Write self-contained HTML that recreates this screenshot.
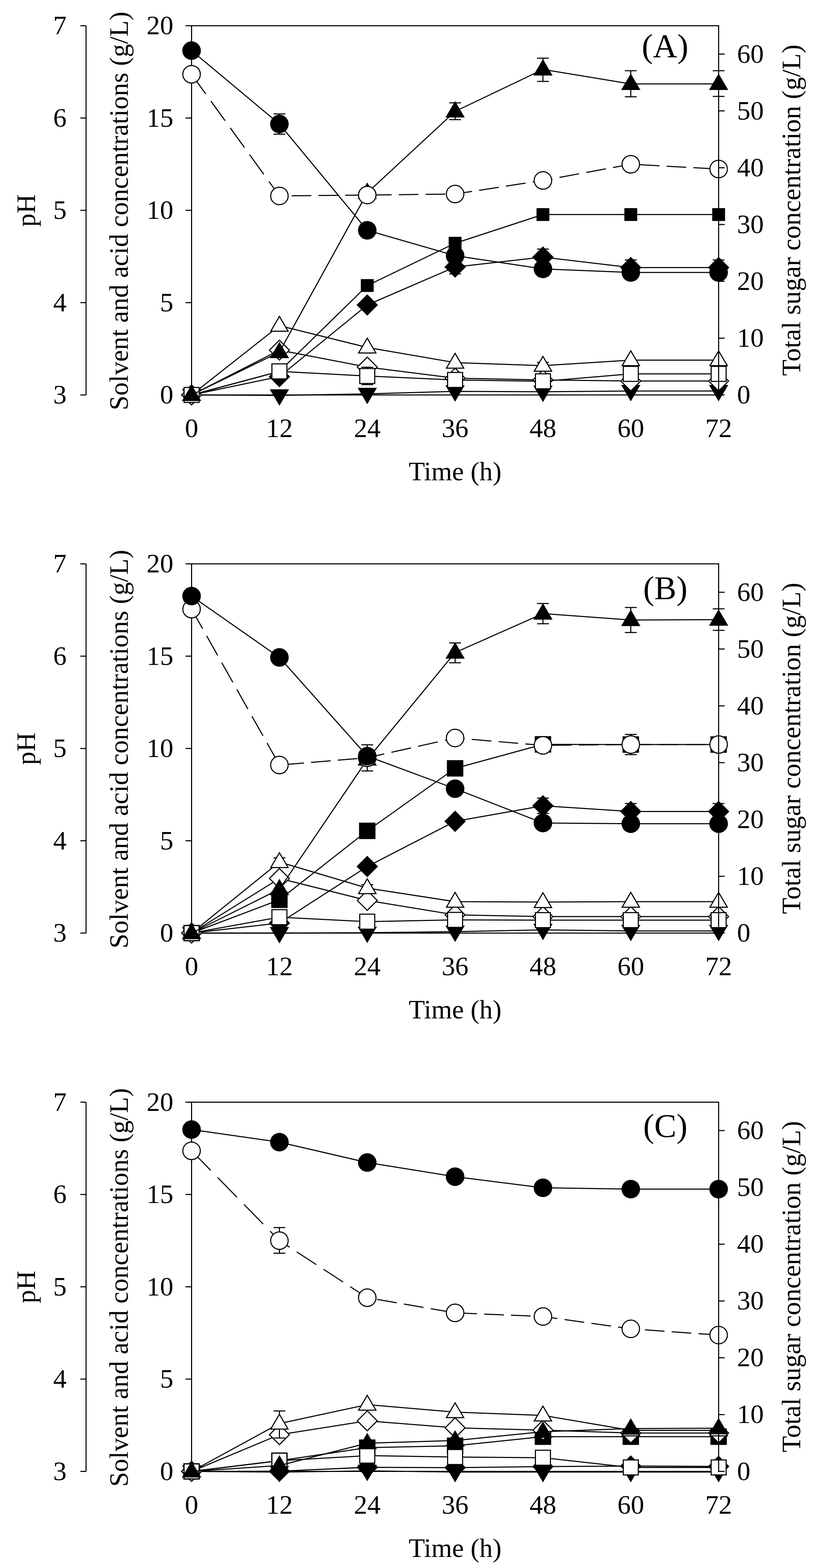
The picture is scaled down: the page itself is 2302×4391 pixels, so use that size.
<!DOCTYPE html>
<html><head><meta charset="utf-8"><title>Fermentation profiles</title>
<style>html,body{margin:0;padding:0;background:#fff;width:2302px;height:4391px;overflow:hidden} text{fill:#000;font-family:'Liberation Serif','Times New Roman',serif}</style>
</head><body>
<svg width="2302" height="4391" viewBox="0 0 2302 4391" style="display:block;font-family:'Liberation Serif','Times New Roman',serif">
<rect width="2302" height="4391" fill="#fff"/>
<g transform="translate(0,0)">
<path d="M241.0 72.0V1106.0" stroke="#000" stroke-width="3.0" fill="none"/>
<path d="M225.0 72H241.0" stroke="#000" stroke-width="3.0"/>
<text x="186.5" y="96" text-anchor="end" font-size="75" >7</text>
<path d="M225.0 330.5H241.0" stroke="#000" stroke-width="3.0"/>
<text x="186.5" y="354.5" text-anchor="end" font-size="75" >6</text>
<path d="M225.0 589H241.0" stroke="#000" stroke-width="3.0"/>
<text x="186.5" y="613" text-anchor="end" font-size="75" >5</text>
<path d="M225.0 847.5H241.0" stroke="#000" stroke-width="3.0"/>
<text x="186.5" y="871.5" text-anchor="end" font-size="75" >4</text>
<path d="M225.0 1106H241.0" stroke="#000" stroke-width="3.0"/>
<text x="186.5" y="1130" text-anchor="end" font-size="75" >3</text>
<text transform="translate(97.8,589.5) rotate(-90)" text-anchor="middle" font-size="74.5">pH</text>
<text transform="translate(357.5,1149) rotate(-90)" text-anchor="start" font-size="74.2">Solvent and acid concentrations (g/L)</text>
<path d="M519.5 72H536.5" stroke="#000" stroke-width="3.0"/>
<text x="485.5" y="96" text-anchor="end" font-size="75" >20</text>
<path d="M519.5 330.5H536.5" stroke="#000" stroke-width="3.0"/>
<text x="485.5" y="354.5" text-anchor="end" font-size="75" >15</text>
<path d="M519.5 589H536.5" stroke="#000" stroke-width="3.0"/>
<text x="485.5" y="613" text-anchor="end" font-size="75" >10</text>
<path d="M519.5 847.5H536.5" stroke="#000" stroke-width="3.0"/>
<text x="485.5" y="871.5" text-anchor="end" font-size="75" >5</text>
<path d="M519.5 1106H536.5" stroke="#000" stroke-width="3.0"/>
<text x="485.5" y="1130" text-anchor="end" font-size="75" >0</text>
<text x="2064" y="1130" text-anchor="start" font-size="75" >0</text>
<text x="2064" y="970.9" text-anchor="start" font-size="75" >10</text>
<text x="2064" y="811.8" text-anchor="start" font-size="75" >20</text>
<text x="2064" y="652.8" text-anchor="start" font-size="75" >30</text>
<text x="2064" y="493.7" text-anchor="start" font-size="75" >40</text>
<text x="2064" y="334.6" text-anchor="start" font-size="75" >50</text>
<text x="2064" y="175.5" text-anchor="start" font-size="75" >60</text>
<text transform="translate(2241,588.6) rotate(-90)" text-anchor="middle" font-size="74.5">Total sugar concentration (g/L)</text>
<text x="536.5" y="1224" text-anchor="middle" font-size="75" >0</text>
<text x="782.5" y="1224" text-anchor="middle" font-size="75" >12</text>
<text x="1028.5" y="1224" text-anchor="middle" font-size="75" >24</text>
<text x="1274.5" y="1224" text-anchor="middle" font-size="75" >36</text>
<text x="1520.5" y="1224" text-anchor="middle" font-size="75" >48</text>
<text x="1766.5" y="1224" text-anchor="middle" font-size="75" >60</text>
<text x="2012.5" y="1224" text-anchor="middle" font-size="75" >72</text>
<text x="1274.5" y="1345" text-anchor="middle" font-size="74.5" >Time (h)</text>
<text x="1797.3" y="160.1" text-anchor="start" font-size="94" >(A)</text>
<path d="M2012.5 72.0H536.5V1106.0H2012.5" stroke="#000" stroke-width="3.0" fill="none" stroke-linejoin="miter"/>
<path d="M536.5 1106 L782.5 1040 L1028.5 799.6 L1274.5 681.2 L1520.5 600.8 L1766.5 600.8 L2012.5 600.8" fill="none" stroke="#000" stroke-width="3.0" stroke-linejoin="round"/>
<rect x="518.5" y="1088" width="36" height="36" fill="#000"/>
<rect x="764.5" y="1022" width="36" height="36" fill="#000"/>
<rect x="1010.5" y="781.6" width="36" height="36" fill="#000"/>
<rect x="1256.5" y="663.2" width="36" height="36" fill="#000"/>
<rect x="1502.5" y="582.8" width="36" height="36" fill="#000"/>
<rect x="1748.5" y="582.8" width="36" height="36" fill="#000"/>
<rect x="1994.5" y="582.8" width="36" height="36" fill="#000"/>
<path d="M536.5 1106 L782.5 1054.7 L1028.5 854 L1274.5 747.7 L1520.5 720 L1766.5 749.3 L2012.5 749.3" fill="none" stroke="#000" stroke-width="3.0" stroke-linejoin="round"/>
<path d="M1766.5 728V770.5M1750 728H1783M1750 770.5H1783" stroke="#000" stroke-width="3.0" fill="none"/>
<path d="M2012.5 728V770.5M1996 728H2029M1996 770.5H2029" stroke="#000" stroke-width="3.0" fill="none"/>
<path d="M1274.5 728.4V767M1258 728.4H1291M1258 767H1291" stroke="#000" stroke-width="3.0" fill="none"/>
<path d="M1520.5 697.5V742.5M1504 697.5H1537M1504 742.5H1537" stroke="#000" stroke-width="3.0" fill="none"/>
<polygon points="536.5,1076 566.5,1106 536.5,1136 506.5,1106" fill="#000"/>
<polygon points="782.5,1024.7 812.5,1054.7 782.5,1084.7 752.5,1054.7" fill="#000"/>
<polygon points="1028.5,824 1058.5,854 1028.5,884 998.5,854" fill="#000"/>
<polygon points="1274.5,717.7 1304.5,747.7 1274.5,777.7 1244.5,747.7" fill="#000"/>
<polygon points="1520.5,690 1550.5,720 1520.5,750 1490.5,720" fill="#000"/>
<polygon points="1766.5,719.3 1796.5,749.3 1766.5,779.3 1736.5,749.3" fill="#000"/>
<polygon points="2012.5,719.3 2042.5,749.3 2012.5,779.3 1982.5,749.3" fill="#000"/>
<path d="M536.5 1106 L782.5 1107.3 L1028.5 1103 L1274.5 1096 L1520.5 1097 L1766.5 1095 L2012.5 1095" fill="none" stroke="#000" stroke-width="3.0" stroke-linejoin="round"/>
<polygon points="536.5,1135 563.5,1089 509.5,1089" fill="#000"/>
<polygon points="782.5,1136.3 809.5,1090.3 755.5,1090.3" fill="#000"/>
<polygon points="1028.5,1132 1055.5,1086 1001.5,1086" fill="#000"/>
<polygon points="1274.5,1125 1301.5,1079 1247.5,1079" fill="#000"/>
<polygon points="1520.5,1126 1547.5,1080 1493.5,1080" fill="#000"/>
<polygon points="1766.5,1124 1793.5,1078 1739.5,1078" fill="#000"/>
<polygon points="2012.5,1124 2039.5,1078 1985.5,1078" fill="#000"/>
<path d="M536.5 1106 L782.5 980.5 L1028.5 1028 L1274.5 1059 L1520.5 1064 L1766.5 1067 L2012.5 1067" fill="none" stroke="#000" stroke-width="3.0" stroke-linejoin="round"/>
<polygon points="536.5,1078.1 564.4,1106 536.5,1133.9 508.6,1106" fill="#fff" stroke="#000" stroke-width="3.0" stroke-linejoin="miter"/>
<polygon points="782.5,952.6 810.4,980.5 782.5,1008.4 754.6,980.5" fill="#fff" stroke="#000" stroke-width="3.0" stroke-linejoin="miter"/>
<polygon points="1028.5,1000.1 1056.4,1028 1028.5,1055.9 1000.6,1028" fill="#fff" stroke="#000" stroke-width="3.0" stroke-linejoin="miter"/>
<polygon points="1274.5,1031.1 1302.4,1059 1274.5,1086.9 1246.6,1059" fill="#fff" stroke="#000" stroke-width="3.0" stroke-linejoin="miter"/>
<polygon points="1520.5,1036.1 1548.4,1064 1520.5,1091.9 1492.6,1064" fill="#fff" stroke="#000" stroke-width="3.0" stroke-linejoin="miter"/>
<polygon points="1766.5,1039.1 1794.4,1067 1766.5,1094.9 1738.6,1067" fill="#fff" stroke="#000" stroke-width="3.0" stroke-linejoin="miter"/>
<polygon points="2012.5,1039.1 2040.4,1067 2012.5,1094.9 1984.6,1067" fill="#fff" stroke="#000" stroke-width="3.0" stroke-linejoin="miter"/>
<path d="M536.5 1106 L782.5 912 L1028.5 973 L1274.5 1015.5 L1520.5 1024 L1766.5 1008.5 L2012.5 1008.5" fill="none" stroke="#000" stroke-width="3.0" stroke-linejoin="round"/>
<path d="M1520.5 1015V1035M1504 1015H1537M1504 1035H1537" stroke="#000" stroke-width="3.0" fill="none"/>
<polygon points="536.5,1080 560.8,1121.5 512.2,1121.5" fill="#fff" stroke="#000" stroke-width="3.0" stroke-linejoin="miter"/>
<polygon points="782.5,886 806.8,927.5 758.2,927.5" fill="#fff" stroke="#000" stroke-width="3.0" stroke-linejoin="miter"/>
<polygon points="1028.5,947 1052.8,988.5 1004.2,988.5" fill="#fff" stroke="#000" stroke-width="3.0" stroke-linejoin="miter"/>
<polygon points="1274.5,989.5 1298.8,1031 1250.2,1031" fill="#fff" stroke="#000" stroke-width="3.0" stroke-linejoin="miter"/>
<polygon points="1520.5,998 1544.8,1039.5 1496.2,1039.5" fill="#fff" stroke="#000" stroke-width="3.0" stroke-linejoin="miter"/>
<polygon points="1766.5,982.5 1790.8,1024 1742.2,1024" fill="#fff" stroke="#000" stroke-width="3.0" stroke-linejoin="miter"/>
<polygon points="2012.5,982.5 2036.8,1024 1988.2,1024" fill="#fff" stroke="#000" stroke-width="3.0" stroke-linejoin="miter"/>
<path d="M536.5 1106 L782.5 1040 L1028.5 1053 L1274.5 1064 L1520.5 1067.8 L1766.5 1047 L2012.5 1047" fill="none" stroke="#000" stroke-width="3.0" stroke-linejoin="round"/>
<path d="M1028.5 1028.4V1077M1012 1028.4H1045M1012 1077H1045" stroke="#000" stroke-width="3.0" fill="none"/>
<rect x="515.5" y="1085" width="42" height="42" fill="#fff" stroke="#000" stroke-width="3.0"/>
<rect x="761.5" y="1019" width="42" height="42" fill="#fff" stroke="#000" stroke-width="3.0"/>
<rect x="1007.5" y="1032" width="42" height="42" fill="#fff" stroke="#000" stroke-width="3.0"/>
<rect x="1253.5" y="1043" width="42" height="42" fill="#fff" stroke="#000" stroke-width="3.0"/>
<rect x="1499.5" y="1046.8" width="42" height="42" fill="#fff" stroke="#000" stroke-width="3.0"/>
<rect x="1745.5" y="1026" width="42" height="42" fill="#fff" stroke="#000" stroke-width="3.0"/>
<rect x="1991.5" y="1026" width="42" height="42" fill="#fff" stroke="#000" stroke-width="3.0"/>
<path d="M536.5 1106 L782.5 986 L1028.5 540 L1274.5 312 L1520.5 194.5 L1766.5 235 L2012.5 235" fill="none" stroke="#000" stroke-width="3.0" stroke-linejoin="round"/>
<path d="M1274.5 288V335M1258 288H1291M1258 335H1291" stroke="#000" stroke-width="3.0" fill="none"/>
<path d="M1520.5 163V228M1504 163H1537M1504 228H1537" stroke="#000" stroke-width="3.0" fill="none"/>
<path d="M1766.5 198V271M1750 198H1783M1750 271H1783" stroke="#000" stroke-width="3.0" fill="none"/>
<path d="M2012.5 198V270M1996 198H2029M1996 270H2029" stroke="#000" stroke-width="3.0" fill="none"/>
<polygon points="536.5,1077 563.5,1123 509.5,1123" fill="#000"/>
<polygon points="782.5,957 809.5,1003 755.5,1003" fill="#000"/>
<polygon points="1028.5,511 1055.5,557 1001.5,557" fill="#000"/>
<polygon points="1274.5,283 1301.5,329 1247.5,329" fill="#000"/>
<polygon points="1520.5,165.5 1547.5,211.5 1493.5,211.5" fill="#000"/>
<polygon points="1766.5,206 1793.5,252 1739.5,252" fill="#000"/>
<polygon points="2012.5,206 2039.5,252 1985.5,252" fill="#000"/>
<line x1="536.5" y1="208" x2="782.5" y2="548.7" stroke="#000" stroke-width="3.0" stroke-dasharray="67.84 24.67" stroke-dashoffset="0.00"/><line x1="782.5" y1="548.7" x2="1028.5" y2="546.2" stroke="#000" stroke-width="3.0" stroke-dasharray="55.00 20.00" stroke-dashoffset="40.70"/><line x1="1028.5" y1="546.2" x2="1274.5" y2="543.3" stroke="#000" stroke-width="3.0" stroke-dasharray="55.00 20.00" stroke-dashoffset="61.70"/><line x1="1274.5" y1="543.3" x2="1520.5" y2="505.3" stroke="#000" stroke-width="3.0" stroke-dasharray="55.65 20.24" stroke-dashoffset="7.79"/><line x1="1520.5" y1="505.3" x2="1766.5" y2="460" stroke="#000" stroke-width="3.0" stroke-dasharray="55.92 20.34" stroke-dashoffset="29.18"/><line x1="1766.5" y1="460" x2="2012.5" y2="473.3" stroke="#000" stroke-width="3.0" stroke-dasharray="55.08 20.03" stroke-dashoffset="49.77"/>
<circle cx="536.5" cy="208" r="24.5" fill="#fff" stroke="#000" stroke-width="3.0"/>
<circle cx="782.5" cy="548.7" r="24.5" fill="#fff" stroke="#000" stroke-width="3.0"/>
<circle cx="1028.5" cy="546.2" r="24.5" fill="#fff" stroke="#000" stroke-width="3.0"/>
<circle cx="1274.5" cy="543.3" r="24.5" fill="#fff" stroke="#000" stroke-width="3.0"/>
<circle cx="1520.5" cy="505.3" r="24.5" fill="#fff" stroke="#000" stroke-width="3.0"/>
<circle cx="1766.5" cy="460" r="24.5" fill="#fff" stroke="#000" stroke-width="3.0"/>
<circle cx="2012.5" cy="473.3" r="24.5" fill="#fff" stroke="#000" stroke-width="3.0"/>
<path d="M536.5 141.8 L782.5 347.3 L1028.5 645 L1274.5 716 L1520.5 753 L1766.5 763 L2012.5 763" fill="none" stroke="#000" stroke-width="3.0" stroke-linejoin="round"/>
<path d="M782.5 319V375.7M766 319H799M766 375.7H799" stroke="#000" stroke-width="3.0" fill="none"/>
<circle cx="536.5" cy="141.8" r="26" fill="#000"/>
<circle cx="782.5" cy="347.3" r="26" fill="#000"/>
<circle cx="1028.5" cy="645" r="26" fill="#000"/>
<circle cx="1274.5" cy="716" r="26" fill="#000"/>
<circle cx="1520.5" cy="753" r="26" fill="#000"/>
<circle cx="1766.5" cy="763" r="26" fill="#000"/>
<circle cx="2012.5" cy="763" r="26" fill="#000"/>
<path d="M2012.5 70.5V1107.5M2012.5 1106H2029.5M2012.5 946.9H2029.5M2012.5 787.8H2029.5M2012.5 628.8H2029.5M2012.5 469.7H2029.5M2012.5 310.6H2029.5M2012.5 151.5H2029.5" stroke="#000" stroke-width="3.0" fill="none"/>
</g>
<g transform="translate(0,1507)">
<path d="M241.0 72.0V1106.0" stroke="#000" stroke-width="3.0" fill="none"/>
<path d="M225.0 72H241.0" stroke="#000" stroke-width="3.0"/>
<text x="186.5" y="96" text-anchor="end" font-size="75" >7</text>
<path d="M225.0 330.5H241.0" stroke="#000" stroke-width="3.0"/>
<text x="186.5" y="354.5" text-anchor="end" font-size="75" >6</text>
<path d="M225.0 589H241.0" stroke="#000" stroke-width="3.0"/>
<text x="186.5" y="613" text-anchor="end" font-size="75" >5</text>
<path d="M225.0 847.5H241.0" stroke="#000" stroke-width="3.0"/>
<text x="186.5" y="871.5" text-anchor="end" font-size="75" >4</text>
<path d="M225.0 1106H241.0" stroke="#000" stroke-width="3.0"/>
<text x="186.5" y="1130" text-anchor="end" font-size="75" >3</text>
<text transform="translate(97.8,589.5) rotate(-90)" text-anchor="middle" font-size="74.5">pH</text>
<text transform="translate(357.5,1149) rotate(-90)" text-anchor="start" font-size="74.2">Solvent and acid concentrations (g/L)</text>
<path d="M519.5 72H536.5" stroke="#000" stroke-width="3.0"/>
<text x="485.5" y="96" text-anchor="end" font-size="75" >20</text>
<path d="M519.5 330.5H536.5" stroke="#000" stroke-width="3.0"/>
<text x="485.5" y="354.5" text-anchor="end" font-size="75" >15</text>
<path d="M519.5 589H536.5" stroke="#000" stroke-width="3.0"/>
<text x="485.5" y="613" text-anchor="end" font-size="75" >10</text>
<path d="M519.5 847.5H536.5" stroke="#000" stroke-width="3.0"/>
<text x="485.5" y="871.5" text-anchor="end" font-size="75" >5</text>
<path d="M519.5 1106H536.5" stroke="#000" stroke-width="3.0"/>
<text x="485.5" y="1130" text-anchor="end" font-size="75" >0</text>
<text x="2064" y="1130" text-anchor="start" font-size="75" >0</text>
<text x="2064" y="970.9" text-anchor="start" font-size="75" >10</text>
<text x="2064" y="811.8" text-anchor="start" font-size="75" >20</text>
<text x="2064" y="652.8" text-anchor="start" font-size="75" >30</text>
<text x="2064" y="493.7" text-anchor="start" font-size="75" >40</text>
<text x="2064" y="334.6" text-anchor="start" font-size="75" >50</text>
<text x="2064" y="175.5" text-anchor="start" font-size="75" >60</text>
<text transform="translate(2241,588.6) rotate(-90)" text-anchor="middle" font-size="74.5">Total sugar concentration (g/L)</text>
<text x="536.5" y="1224" text-anchor="middle" font-size="75" >0</text>
<text x="782.5" y="1224" text-anchor="middle" font-size="75" >12</text>
<text x="1028.5" y="1224" text-anchor="middle" font-size="75" >24</text>
<text x="1274.5" y="1224" text-anchor="middle" font-size="75" >36</text>
<text x="1520.5" y="1224" text-anchor="middle" font-size="75" >48</text>
<text x="1766.5" y="1224" text-anchor="middle" font-size="75" >60</text>
<text x="2012.5" y="1224" text-anchor="middle" font-size="75" >72</text>
<text x="1274.5" y="1345" text-anchor="middle" font-size="74.5" >Time (h)</text>
<text x="1801.2" y="170.5" text-anchor="start" font-size="93" >(B)</text>
<path d="M2012.5 72.0H536.5V1106.0H2012.5" stroke="#000" stroke-width="3.0" fill="none" stroke-linejoin="miter"/>
<path d="M536.5 1106 L782.5 1012.8 L1028.5 819.7 L1274.5 644.7 L1520.5 577.5 L1766.5 578 L2012.5 578" fill="none" stroke="#000" stroke-width="3.0" stroke-linejoin="round"/>
<rect x="513.5" y="1083" width="46" height="46" fill="#000"/>
<rect x="759.5" y="989.8" width="46" height="46" fill="#000"/>
<rect x="1005.5" y="796.7" width="46" height="46" fill="#000"/>
<rect x="1251.5" y="621.7" width="46" height="46" fill="#000"/>
<rect x="1497.5" y="554.5" width="46" height="46" fill="#000"/>
<rect x="1743.5" y="555" width="46" height="46" fill="#000"/>
<rect x="1989.5" y="555" width="46" height="46" fill="#000"/>
<path d="M536.5 1106 L782.5 1078 L1028.5 919.6 L1274.5 793 L1520.5 749.6 L1766.5 765.5 L2012.5 765.5" fill="none" stroke="#000" stroke-width="3.0" stroke-linejoin="round"/>
<path d="M1520.5 728V771M1504 728H1537M1504 771H1537" stroke="#000" stroke-width="3.0" fill="none"/>
<path d="M1766.5 743.2V787.6M1750 743.2H1783M1750 787.6H1783" stroke="#000" stroke-width="3.0" fill="none"/>
<path d="M2012.5 743.2V787.6M1996 743.2H2029M1996 787.6H2029" stroke="#000" stroke-width="3.0" fill="none"/>
<polygon points="536.5,1076 566.5,1106 536.5,1136 506.5,1106" fill="#000"/>
<polygon points="782.5,1048 812.5,1078 782.5,1108 752.5,1078" fill="#000"/>
<polygon points="1028.5,889.6 1058.5,919.6 1028.5,949.6 998.5,919.6" fill="#000"/>
<polygon points="1274.5,763 1304.5,793 1274.5,823 1244.5,793" fill="#000"/>
<polygon points="1520.5,719.6 1550.5,749.6 1520.5,779.6 1490.5,749.6" fill="#000"/>
<polygon points="1766.5,735.5 1796.5,765.5 1766.5,795.5 1736.5,765.5" fill="#000"/>
<polygon points="2012.5,735.5 2042.5,765.5 2012.5,795.5 1982.5,765.5" fill="#000"/>
<path d="M536.5 1106 L782.5 1106 L1028.5 1105 L1274.5 1102 L1520.5 1097 L1766.5 1100 L2012.5 1100" fill="none" stroke="#000" stroke-width="3.0" stroke-linejoin="round"/>
<polygon points="536.5,1135 563.5,1089 509.5,1089" fill="#000"/>
<polygon points="782.5,1135 809.5,1089 755.5,1089" fill="#000"/>
<polygon points="1028.5,1134 1055.5,1088 1001.5,1088" fill="#000"/>
<polygon points="1274.5,1131 1301.5,1085 1247.5,1085" fill="#000"/>
<polygon points="1520.5,1126 1547.5,1080 1493.5,1080" fill="#000"/>
<polygon points="1766.5,1129 1793.5,1083 1739.5,1083" fill="#000"/>
<polygon points="2012.5,1129 2039.5,1083 1985.5,1083" fill="#000"/>
<path d="M536.5 1106 L782.5 953 L1028.5 1014.5 L1274.5 1055 L1520.5 1059.7 L1766.5 1059.7 L2012.5 1059.7" fill="none" stroke="#000" stroke-width="3.0" stroke-linejoin="round"/>
<polygon points="536.5,1078.1 564.4,1106 536.5,1133.9 508.6,1106" fill="#fff" stroke="#000" stroke-width="3.0" stroke-linejoin="miter"/>
<polygon points="782.5,925.1 810.4,953 782.5,980.9 754.6,953" fill="#fff" stroke="#000" stroke-width="3.0" stroke-linejoin="miter"/>
<polygon points="1028.5,986.6 1056.4,1014.5 1028.5,1042.4 1000.6,1014.5" fill="#fff" stroke="#000" stroke-width="3.0" stroke-linejoin="miter"/>
<polygon points="1274.5,1027.1 1302.4,1055 1274.5,1082.9 1246.6,1055" fill="#fff" stroke="#000" stroke-width="3.0" stroke-linejoin="miter"/>
<polygon points="1520.5,1031.8 1548.4,1059.7 1520.5,1087.6 1492.6,1059.7" fill="#fff" stroke="#000" stroke-width="3.0" stroke-linejoin="miter"/>
<polygon points="1766.5,1031.8 1794.4,1059.7 1766.5,1087.6 1738.6,1059.7" fill="#fff" stroke="#000" stroke-width="3.0" stroke-linejoin="miter"/>
<polygon points="2012.5,1031.8 2040.4,1059.7 2012.5,1087.6 1984.6,1059.7" fill="#fff" stroke="#000" stroke-width="3.0" stroke-linejoin="miter"/>
<path d="M536.5 1106 L782.5 907 L1028.5 980 L1274.5 1018 L1520.5 1019 L1766.5 1018 L2012.5 1018" fill="none" stroke="#000" stroke-width="3.0" stroke-linejoin="round"/>
<path d="M782.5 895.6V918.4M766 895.6H799M766 918.4H799" stroke="#000" stroke-width="3.0" fill="none"/>
<path d="M1028.5 970.6V989.6M1012 970.6H1045M1012 989.6H1045" stroke="#000" stroke-width="3.0" fill="none"/>
<polygon points="536.5,1080 560.8,1121.5 512.2,1121.5" fill="#fff" stroke="#000" stroke-width="3.0" stroke-linejoin="miter"/>
<polygon points="782.5,881 806.8,922.5 758.2,922.5" fill="#fff" stroke="#000" stroke-width="3.0" stroke-linejoin="miter"/>
<polygon points="1028.5,954 1052.8,995.5 1004.2,995.5" fill="#fff" stroke="#000" stroke-width="3.0" stroke-linejoin="miter"/>
<polygon points="1274.5,992 1298.8,1033.5 1250.2,1033.5" fill="#fff" stroke="#000" stroke-width="3.0" stroke-linejoin="miter"/>
<polygon points="1520.5,993 1544.8,1034.5 1496.2,1034.5" fill="#fff" stroke="#000" stroke-width="3.0" stroke-linejoin="miter"/>
<polygon points="1766.5,992 1790.8,1033.5 1742.2,1033.5" fill="#fff" stroke="#000" stroke-width="3.0" stroke-linejoin="miter"/>
<polygon points="2012.5,992 2036.8,1033.5 1988.2,1033.5" fill="#fff" stroke="#000" stroke-width="3.0" stroke-linejoin="miter"/>
<path d="M536.5 1106 L782.5 1061.4 L1028.5 1074 L1274.5 1069 L1520.5 1069.7 L1766.5 1069.7 L2012.5 1069.7" fill="none" stroke="#000" stroke-width="3.0" stroke-linejoin="round"/>
<rect x="515.5" y="1085" width="42" height="42" fill="#fff" stroke="#000" stroke-width="3.0"/>
<rect x="761.5" y="1040.4" width="42" height="42" fill="#fff" stroke="#000" stroke-width="3.0"/>
<rect x="1007.5" y="1053" width="42" height="42" fill="#fff" stroke="#000" stroke-width="3.0"/>
<rect x="1253.5" y="1048" width="42" height="42" fill="#fff" stroke="#000" stroke-width="3.0"/>
<rect x="1499.5" y="1048.7" width="42" height="42" fill="#fff" stroke="#000" stroke-width="3.0"/>
<rect x="1745.5" y="1048.7" width="42" height="42" fill="#fff" stroke="#000" stroke-width="3.0"/>
<rect x="1991.5" y="1048.7" width="42" height="42" fill="#fff" stroke="#000" stroke-width="3.0"/>
<path d="M536.5 1106 L782.5 983 L1028.5 620 L1274.5 320.4 L1520.5 211.3 L1766.5 229.3 L2012.5 228.2" fill="none" stroke="#000" stroke-width="3.0" stroke-linejoin="round"/>
<path d="M1274.5 293.6V349M1258 293.6H1291M1258 349H1291" stroke="#000" stroke-width="3.0" fill="none"/>
<path d="M1520.5 183V239.7M1504 183H1537M1504 239.7H1537" stroke="#000" stroke-width="3.0" fill="none"/>
<path d="M1766.5 194.3V264.3M1750 194.3H1783M1750 264.3H1783" stroke="#000" stroke-width="3.0" fill="none"/>
<path d="M2012.5 198V258.3M1996 198H2029M1996 258.3H2029" stroke="#000" stroke-width="3.0" fill="none"/>
<polygon points="536.5,1077 563.5,1123 509.5,1123" fill="#000"/>
<polygon points="782.5,954 809.5,1000 755.5,1000" fill="#000"/>
<polygon points="1028.5,591 1055.5,637 1001.5,637" fill="#000"/>
<polygon points="1274.5,291.4 1301.5,337.4 1247.5,337.4" fill="#000"/>
<polygon points="1520.5,182.3 1547.5,228.3 1493.5,228.3" fill="#000"/>
<polygon points="1766.5,200.3 1793.5,246.3 1739.5,246.3" fill="#000"/>
<polygon points="2012.5,199.2 2039.5,245.2 1985.5,245.2" fill="#000"/>
<line x1="536.5" y1="198.8" x2="782.5" y2="635.3" stroke="#000" stroke-width="3.0" stroke-dasharray="63.13 22.96" stroke-dashoffset="0.00"/><line x1="782.5" y1="635.3" x2="1028.5" y2="615" stroke="#000" stroke-width="3.0" stroke-dasharray="55.19 20.07" stroke-dashoffset="61.71"/><line x1="1028.5" y1="615" x2="1274.5" y2="559.7" stroke="#000" stroke-width="3.0" stroke-dasharray="56.37 20.50" stroke-dashoffset="7.69"/><line x1="1274.5" y1="559.7" x2="1520.5" y2="580.3" stroke="#000" stroke-width="3.0" stroke-dasharray="55.19 20.07" stroke-dashoffset="28.60"/><line x1="1520.5" y1="580.3" x2="1766.5" y2="578" stroke="#000" stroke-width="3.0" stroke-dasharray="55.00 20.00" stroke-dashoffset="49.50"/><line x1="1766.5" y1="578" x2="2012.5" y2="578" stroke="#000" stroke-width="3.0" stroke-dasharray="55.00 20.00" stroke-dashoffset="70.50"/>
<path d="M1028.5 578.7V651.9M1012 578.7H1045M1012 651.9H1045" stroke="#000" stroke-width="3.0" fill="none"/>
<path d="M1766.5 549.7V606.3M1750 549.7H1783M1750 606.3H1783" stroke="#000" stroke-width="3.0" fill="none"/>
<circle cx="536.5" cy="198.8" r="24.5" fill="#fff" stroke="#000" stroke-width="3.0"/>
<circle cx="782.5" cy="635.3" r="24.5" fill="#fff" stroke="#000" stroke-width="3.0"/>
<circle cx="1028.5" cy="615" r="24.5" fill="#fff" stroke="#000" stroke-width="3.0"/>
<circle cx="1274.5" cy="559.7" r="24.5" fill="#fff" stroke="#000" stroke-width="3.0"/>
<circle cx="1520.5" cy="580.3" r="24.5" fill="#fff" stroke="#000" stroke-width="3.0"/>
<circle cx="1766.5" cy="578" r="24.5" fill="#fff" stroke="#000" stroke-width="3.0"/>
<circle cx="2012.5" cy="578" r="24.5" fill="#fff" stroke="#000" stroke-width="3.0"/>
<path d="M536.5 162.3 L782.5 334 L1028.5 610.5 L1274.5 701.7 L1520.5 797.7 L1766.5 799.7 L2012.5 799.7" fill="none" stroke="#000" stroke-width="3.0" stroke-linejoin="round"/>
<circle cx="536.5" cy="162.3" r="26" fill="#000"/>
<circle cx="782.5" cy="334" r="26" fill="#000"/>
<circle cx="1028.5" cy="610.5" r="26" fill="#000"/>
<circle cx="1274.5" cy="701.7" r="26" fill="#000"/>
<circle cx="1520.5" cy="797.7" r="26" fill="#000"/>
<circle cx="1766.5" cy="799.7" r="26" fill="#000"/>
<circle cx="2012.5" cy="799.7" r="26" fill="#000"/>
<path d="M2012.5 70.5V1107.5M2012.5 1106H2029.5M2012.5 946.9H2029.5M2012.5 787.8H2029.5M2012.5 628.8H2029.5M2012.5 469.7H2029.5M2012.5 310.6H2029.5M2012.5 151.5H2029.5" stroke="#000" stroke-width="3.0" fill="none"/>
</g>
<g transform="translate(0,3014.5)">
<path d="M241.0 72.0V1106.0" stroke="#000" stroke-width="3.0" fill="none"/>
<path d="M225.0 72H241.0" stroke="#000" stroke-width="3.0"/>
<text x="186.5" y="96" text-anchor="end" font-size="75" >7</text>
<path d="M225.0 330.5H241.0" stroke="#000" stroke-width="3.0"/>
<text x="186.5" y="354.5" text-anchor="end" font-size="75" >6</text>
<path d="M225.0 589H241.0" stroke="#000" stroke-width="3.0"/>
<text x="186.5" y="613" text-anchor="end" font-size="75" >5</text>
<path d="M225.0 847.5H241.0" stroke="#000" stroke-width="3.0"/>
<text x="186.5" y="871.5" text-anchor="end" font-size="75" >4</text>
<path d="M225.0 1106H241.0" stroke="#000" stroke-width="3.0"/>
<text x="186.5" y="1130" text-anchor="end" font-size="75" >3</text>
<text transform="translate(97.8,589.5) rotate(-90)" text-anchor="middle" font-size="74.5">pH</text>
<text transform="translate(357.5,1149) rotate(-90)" text-anchor="start" font-size="74.2">Solvent and acid concentrations (g/L)</text>
<path d="M519.5 72H536.5" stroke="#000" stroke-width="3.0"/>
<text x="485.5" y="96" text-anchor="end" font-size="75" >20</text>
<path d="M519.5 330.5H536.5" stroke="#000" stroke-width="3.0"/>
<text x="485.5" y="354.5" text-anchor="end" font-size="75" >15</text>
<path d="M519.5 589H536.5" stroke="#000" stroke-width="3.0"/>
<text x="485.5" y="613" text-anchor="end" font-size="75" >10</text>
<path d="M519.5 847.5H536.5" stroke="#000" stroke-width="3.0"/>
<text x="485.5" y="871.5" text-anchor="end" font-size="75" >5</text>
<path d="M519.5 1106H536.5" stroke="#000" stroke-width="3.0"/>
<text x="485.5" y="1130" text-anchor="end" font-size="75" >0</text>
<text x="2064" y="1130" text-anchor="start" font-size="75" >0</text>
<text x="2064" y="970.9" text-anchor="start" font-size="75" >10</text>
<text x="2064" y="811.8" text-anchor="start" font-size="75" >20</text>
<text x="2064" y="652.8" text-anchor="start" font-size="75" >30</text>
<text x="2064" y="493.7" text-anchor="start" font-size="75" >40</text>
<text x="2064" y="334.6" text-anchor="start" font-size="75" >50</text>
<text x="2064" y="175.5" text-anchor="start" font-size="75" >60</text>
<text transform="translate(2241,588.6) rotate(-90)" text-anchor="middle" font-size="74.5">Total sugar concentration (g/L)</text>
<text x="536.5" y="1224" text-anchor="middle" font-size="75" >0</text>
<text x="782.5" y="1224" text-anchor="middle" font-size="75" >12</text>
<text x="1028.5" y="1224" text-anchor="middle" font-size="75" >24</text>
<text x="1274.5" y="1224" text-anchor="middle" font-size="75" >36</text>
<text x="1520.5" y="1224" text-anchor="middle" font-size="75" >48</text>
<text x="1766.5" y="1224" text-anchor="middle" font-size="75" >60</text>
<text x="2012.5" y="1224" text-anchor="middle" font-size="75" >72</text>
<text x="1274.5" y="1345" text-anchor="middle" font-size="74.5" >Time (h)</text>
<text x="1801.2" y="169.5" text-anchor="start" font-size="93" >(C)</text>
<path d="M2012.5 72.0H536.5V1106.0H2012.5" stroke="#000" stroke-width="3.0" fill="none" stroke-linejoin="miter"/>
<path d="M536.5 1106 L782.5 1076 L1028.5 1039.5 L1274.5 1034.2 L1520.5 1008.8 L1766.5 1008.8 L2012.5 1008.8" fill="none" stroke="#000" stroke-width="3.0" stroke-linejoin="round"/>
<rect x="513.5" y="1083" width="46" height="46" fill="#000"/>
<rect x="759.5" y="1053" width="46" height="46" fill="#000"/>
<rect x="1005.5" y="1016.5" width="46" height="46" fill="#000"/>
<rect x="1251.5" y="1011.2" width="46" height="46" fill="#000"/>
<rect x="1497.5" y="985.8" width="46" height="46" fill="#000"/>
<rect x="1743.5" y="985.8" width="46" height="46" fill="#000"/>
<rect x="1989.5" y="985.8" width="46" height="46" fill="#000"/>
<path d="M536.5 1106 L782.5 1105.5 L1028.5 1094.4 L1274.5 1095.5 L1520.5 1092.4 L1766.5 1091 L2012.5 1092" fill="none" stroke="#000" stroke-width="3.0" stroke-linejoin="round"/>
<polygon points="536.5,1076 566.5,1106 536.5,1136 506.5,1106" fill="#000"/>
<polygon points="782.5,1075.5 812.5,1105.5 782.5,1135.5 752.5,1105.5" fill="#000"/>
<polygon points="1028.5,1064.4 1058.5,1094.4 1028.5,1124.4 998.5,1094.4" fill="#000"/>
<polygon points="1274.5,1065.5 1304.5,1095.5 1274.5,1125.5 1244.5,1095.5" fill="#000"/>
<polygon points="1520.5,1062.4 1550.5,1092.4 1520.5,1122.4 1490.5,1092.4" fill="#000"/>
<polygon points="1766.5,1061 1796.5,1091 1766.5,1121 1736.5,1091" fill="#000"/>
<polygon points="2012.5,1062 2042.5,1092 2012.5,1122 1982.5,1092" fill="#000"/>
<path d="M536.5 1106 L782.5 1108 L1028.5 1104.6 L1274.5 1107.8 L1520.5 1107.8 L1766.5 1107.8 L2012.5 1107.8" fill="none" stroke="#000" stroke-width="3.0" stroke-linejoin="round"/>
<polygon points="536.5,1135 563.5,1089 509.5,1089" fill="#000"/>
<polygon points="782.5,1137 809.5,1091 755.5,1091" fill="#000"/>
<polygon points="1028.5,1133.6 1055.5,1087.6 1001.5,1087.6" fill="#000"/>
<polygon points="1274.5,1136.8 1301.5,1090.8 1247.5,1090.8" fill="#000"/>
<polygon points="1520.5,1136.8 1547.5,1090.8 1493.5,1090.8" fill="#000"/>
<polygon points="1766.5,1136.8 1793.5,1090.8 1739.5,1090.8" fill="#000"/>
<polygon points="2012.5,1136.8 2039.5,1090.8 1985.5,1090.8" fill="#000"/>
<path d="M536.5 1106 L782.5 1003.2 L1028.5 964.4 L1274.5 983.9 L1520.5 990.5 L1766.5 998.5 L2012.5 998.5" fill="none" stroke="#000" stroke-width="3.0" stroke-linejoin="round"/>
<polygon points="536.5,1078.1 564.4,1106 536.5,1133.9 508.6,1106" fill="#fff" stroke="#000" stroke-width="3.0" stroke-linejoin="miter"/>
<polygon points="782.5,975.3 810.4,1003.2 782.5,1031.1 754.6,1003.2" fill="#fff" stroke="#000" stroke-width="3.0" stroke-linejoin="miter"/>
<polygon points="1028.5,936.5 1056.4,964.4 1028.5,992.3 1000.6,964.4" fill="#fff" stroke="#000" stroke-width="3.0" stroke-linejoin="miter"/>
<polygon points="1274.5,956 1302.4,983.9 1274.5,1011.8 1246.6,983.9" fill="#fff" stroke="#000" stroke-width="3.0" stroke-linejoin="miter"/>
<polygon points="1520.5,962.6 1548.4,990.5 1520.5,1018.4 1492.6,990.5" fill="#fff" stroke="#000" stroke-width="3.0" stroke-linejoin="miter"/>
<polygon points="1766.5,970.6 1794.4,998.5 1766.5,1026.4 1738.6,998.5" fill="#fff" stroke="#000" stroke-width="3.0" stroke-linejoin="miter"/>
<polygon points="2012.5,970.6 2040.4,998.5 2012.5,1026.4 1984.6,998.5" fill="#fff" stroke="#000" stroke-width="3.0" stroke-linejoin="miter"/>
<path d="M536.5 1106 L782.5 972 L1028.5 919 L1274.5 940 L1520.5 949.2 L1766.5 991 L2012.5 991" fill="none" stroke="#000" stroke-width="3.0" stroke-linejoin="round"/>
<path d="M782.5 936.7V1012.5M766 936.7H799M766 1012.5H799" stroke="#000" stroke-width="3.0" fill="none"/>
<polygon points="536.5,1080 560.8,1121.5 512.2,1121.5" fill="#fff" stroke="#000" stroke-width="3.0" stroke-linejoin="miter"/>
<polygon points="782.5,946 806.8,987.5 758.2,987.5" fill="#fff" stroke="#000" stroke-width="3.0" stroke-linejoin="miter"/>
<polygon points="1028.5,893 1052.8,934.5 1004.2,934.5" fill="#fff" stroke="#000" stroke-width="3.0" stroke-linejoin="miter"/>
<polygon points="1274.5,914 1298.8,955.5 1250.2,955.5" fill="#fff" stroke="#000" stroke-width="3.0" stroke-linejoin="miter"/>
<polygon points="1520.5,923.2 1544.8,964.7 1496.2,964.7" fill="#fff" stroke="#000" stroke-width="3.0" stroke-linejoin="miter"/>
<polygon points="1766.5,965 1790.8,1006.5 1742.2,1006.5" fill="#fff" stroke="#000" stroke-width="3.0" stroke-linejoin="miter"/>
<polygon points="2012.5,965 2036.8,1006.5 1988.2,1006.5" fill="#fff" stroke="#000" stroke-width="3.0" stroke-linejoin="miter"/>
<path d="M536.5 1106 L782.5 1076 L1028.5 1061.8 L1274.5 1065.7 L1520.5 1067.7 L1766.5 1094.9 L2012.5 1094.9" fill="none" stroke="#000" stroke-width="3.0" stroke-linejoin="round"/>
<rect x="515.5" y="1085" width="42" height="42" fill="#fff" stroke="#000" stroke-width="3.0"/>
<rect x="761.5" y="1055" width="42" height="42" fill="#fff" stroke="#000" stroke-width="3.0"/>
<rect x="1007.5" y="1040.8" width="42" height="42" fill="#fff" stroke="#000" stroke-width="3.0"/>
<rect x="1253.5" y="1044.7" width="42" height="42" fill="#fff" stroke="#000" stroke-width="3.0"/>
<rect x="1499.5" y="1046.7" width="42" height="42" fill="#fff" stroke="#000" stroke-width="3.0"/>
<rect x="1745.5" y="1073.9" width="42" height="42" fill="#fff" stroke="#000" stroke-width="3.0"/>
<rect x="1991.5" y="1073.9" width="42" height="42" fill="#fff" stroke="#000" stroke-width="3.0"/>
<path d="M536.5 1106 L782.5 1089.5 L1028.5 1027 L1274.5 1019.5 L1520.5 995 L1766.5 986 L2012.5 985" fill="none" stroke="#000" stroke-width="3.0" stroke-linejoin="round"/>
<polygon points="536.5,1077 563.5,1123 509.5,1123" fill="#000"/>
<polygon points="782.5,1060.5 809.5,1106.5 755.5,1106.5" fill="#000"/>
<polygon points="1028.5,998 1055.5,1044 1001.5,1044" fill="#000"/>
<polygon points="1274.5,990.5 1301.5,1036.5 1247.5,1036.5" fill="#000"/>
<polygon points="1520.5,966 1547.5,1012 1493.5,1012" fill="#000"/>
<polygon points="1766.5,957 1793.5,1003 1739.5,1003" fill="#000"/>
<polygon points="2012.5,956 2039.5,1002 1985.5,1002" fill="#000"/>
<line x1="536.5" y1="208.3" x2="782.5" y2="459.8" stroke="#000" stroke-width="3.0" stroke-dasharray="76.94 27.98" stroke-dashoffset="0.00"/><line x1="782.5" y1="459.8" x2="1028.5" y2="619.5" stroke="#000" stroke-width="3.0" stroke-dasharray="65.57 23.84" stroke-dashoffset="31.59"/><line x1="1028.5" y1="619.5" x2="1274.5" y2="662" stroke="#000" stroke-width="3.0" stroke-dasharray="55.81 20.30" stroke-dashoffset="48.20"/><line x1="1274.5" y1="662" x2="1520.5" y2="672.2" stroke="#000" stroke-width="3.0" stroke-dasharray="55.05 20.02" stroke-dashoffset="68.56"/><line x1="1520.5" y1="672.2" x2="1766.5" y2="706.8" stroke="#000" stroke-width="3.0" stroke-dasharray="55.54 20.20" stroke-dashoffset="14.64"/><line x1="1766.5" y1="706.8" x2="2012.5" y2="724.2" stroke="#000" stroke-width="3.0" stroke-dasharray="55.14 20.05" stroke-dashoffset="35.59"/>
<path d="M782.5 423.3V495M766 423.3H799M766 495H799" stroke="#000" stroke-width="3.0" fill="none"/>
<circle cx="536.5" cy="208.3" r="24.5" fill="#fff" stroke="#000" stroke-width="3.0"/>
<circle cx="782.5" cy="459.8" r="24.5" fill="#fff" stroke="#000" stroke-width="3.0"/>
<circle cx="1028.5" cy="619.5" r="24.5" fill="#fff" stroke="#000" stroke-width="3.0"/>
<circle cx="1274.5" cy="662" r="24.5" fill="#fff" stroke="#000" stroke-width="3.0"/>
<circle cx="1520.5" cy="672.2" r="24.5" fill="#fff" stroke="#000" stroke-width="3.0"/>
<circle cx="1766.5" cy="706.8" r="24.5" fill="#fff" stroke="#000" stroke-width="3.0"/>
<circle cx="2012.5" cy="724.2" r="24.5" fill="#fff" stroke="#000" stroke-width="3.0"/>
<path d="M536.5 148.8 L782.5 184 L1028.5 241.1 L1274.5 280.7 L1520.5 311.8 L1766.5 315.5 L2012.5 315.5" fill="none" stroke="#000" stroke-width="3.0" stroke-linejoin="round"/>
<circle cx="536.5" cy="148.8" r="26" fill="#000"/>
<circle cx="782.5" cy="184" r="26" fill="#000"/>
<circle cx="1028.5" cy="241.1" r="26" fill="#000"/>
<circle cx="1274.5" cy="280.7" r="26" fill="#000"/>
<circle cx="1520.5" cy="311.8" r="26" fill="#000"/>
<circle cx="1766.5" cy="315.5" r="26" fill="#000"/>
<circle cx="2012.5" cy="315.5" r="26" fill="#000"/>
<path d="M2012.5 70.5V1107.5M2012.5 1106H2029.5M2012.5 946.9H2029.5M2012.5 787.8H2029.5M2012.5 628.8H2029.5M2012.5 469.7H2029.5M2012.5 310.6H2029.5M2012.5 151.5H2029.5" stroke="#000" stroke-width="3.0" fill="none"/>
</g>
</svg>
</body></html>
